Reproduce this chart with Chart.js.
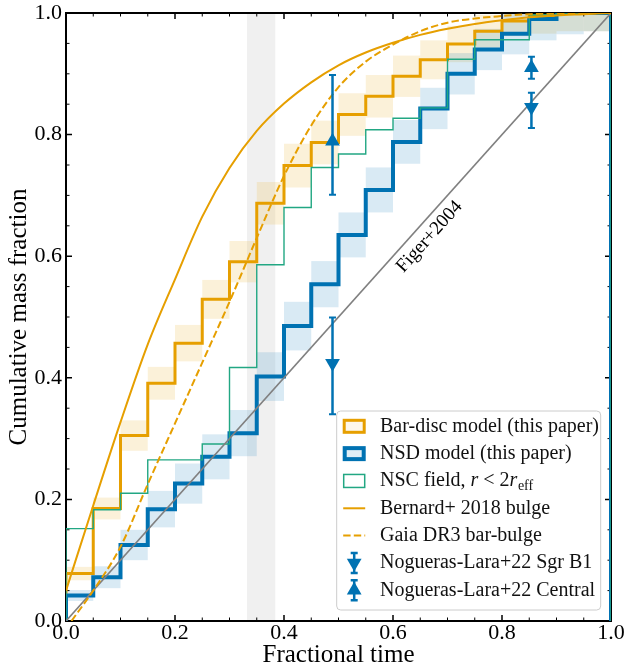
<!DOCTYPE html>
<html>
<head>
<meta charset="utf-8">
<script src="https://cdn.jsdelivr.net/npm/chart.js@4.4.1/dist/chart.umd.min.js"></script>
<style>
  html, body { margin: 0; padding: 0; background: #fff; }
  #wrap { width: 624px; height: 668px; }
</style>
</head>
<body>
<div id="wrap"><canvas id="chart" width="624" height="668"></canvas></div>
<script>
// histogram bins in fractional time
const binEdges = [0, 0.05, 0.1, 0.15, 0.2, 0.25, 0.3, 0.35, 0.4, 0.45, 0.5, 0.55, 0.6, 0.65, 0.7, 0.75, 0.8, 0.85, 0.9, 0.95, 1.0];

// cumulative fractions per bin
const barDisc    = [0.078, 0.185, 0.305, 0.391, 0.457, 0.529, 0.591, 0.687, 0.749, 0.787, 0.833, 0.863, 0.896, 0.923, 0.949, 0.970, 0.987, 0.996, 1.0, 1.0];
const barDiscErr = [0.011, 0.018, 0.025, 0.027, 0.030, 0.032, 0.034, 0.035, 0.036, 0.036, 0.035, 0.035, 0.034, 0.032, 0.030, 0.027, 0.025, 0.030, 0.030, 0.030];
const nsdModel   = [0.042, 0.072, 0.125, 0.184, 0.226, 0.270, 0.309, 0.402, 0.485, 0.554, 0.635, 0.709, 0.788, 0.843, 0.900, 0.940, 0.966, 0.990, 1.0, 1.0];
const nsdErr     = [0.009, 0.018, 0.025, 0.030, 0.033, 0.037, 0.038, 0.040, 0.040, 0.038, 0.037, 0.037, 0.036, 0.034, 0.034, 0.034, 0.034, 0.035, 0.035, 0.030];
const nscField   = [0.152, 0.183, 0.210, 0.265, 0.265, 0.291, 0.417, 0.586, 0.680, 0.746, 0.768, 0.808, 0.827, 0.844, 0.924, 0.956, 0.956, 0.997, 1.0, 1.0];

// smooth literature curves
const bernardX = [0, 0.05, 0.1, 0.15, 0.2, 0.25, 0.3, 0.35, 0.4, 0.45, 0.5, 0.55, 0.6, 0.65, 0.7, 0.75, 0.8, 0.85, 0.9, 0.95, 1.0];
const bernardY = [0.05, 0.19, 0.327, 0.455, 0.562, 0.665, 0.745, 0.806, 0.851, 0.886, 0.914, 0.935, 0.951, 0.964, 0.974, 0.982, 0.988, 0.993, 0.996, 0.998, 1.0];
const gaiaX = [0.01, 0.05, 0.1, 0.15, 0.2, 0.25, 0.3, 0.35, 0.4, 0.45, 0.5, 0.55, 0.6, 0.65, 0.7, 0.75, 0.8, 0.85, 0.9, 1.0];
const gaiaY = [0.0, 0.05, 0.122, 0.225, 0.325, 0.425, 0.525, 0.63, 0.732, 0.815, 0.878, 0.92, 0.948, 0.97, 0.984, 0.991, 0.995, 0.998, 0.999, 1.0];
const figerX = [0, 1];
const figerY = [0, 1];

// Nogueras-Lara+22 points with lower / upper error limits
const sgrB1X  = [0.489, 0.854];
const sgrB1Y  = [0.424, 0.845];
const sgrB1Lo = [0.340, 0.811];
const sgrB1Hi = [0.499, 0.869];
const centralX  = [0.489, 0.854];
const centralY  = [0.789, 0.910];
const centralLo = [0.701, 0.892];
const centralHi = [0.898, 0.928];

const bandRange = [0.332, 0.384];
const tickValues = [0, 0.2, 0.4, 0.6, 0.8, 1.0];

const ORANGE = '#E69F00';
const BLUE = '#0072B2';
const GREEN = '#22a783';
const FONT = '"Liberation Serif", "Times New Roman", serif';

Chart.defaults.font.family = FONT;
Chart.defaults.color = '#000';

function stairs(vals) {
    const pts = [{x: 0, y: 0}];
    vals.forEach((v, i) => pts.push({x: binEdges[i], y: v}));
    pts.push({x: 1, y: vals[vals.length - 1]});
    pts.push({x: 1, y: 0});
    return pts;
}
const zip = (xs, ys) => xs.map((x, i) => ({x: x, y: ys[i]}));

const backdrop = {
    id: 'backdrop',
    beforeDatasetsDraw(chart) {
        const {ctx, chartArea: a, scales: {x, y}} = chart;
        ctx.save();
        ctx.beginPath();
        ctx.rect(a.left, a.top, a.width, a.height);
        ctx.clip();
        const x0 = x.getPixelForValue(bandRange[0]);
        ctx.fillStyle = 'rgba(0,0,0,0.06)';
        ctx.fillRect(x0, a.top, x.getPixelForValue(bandRange[1]) - x0, a.height);
        function shade(vals, errs, color) {
            ctx.fillStyle = color;
            vals.forEach((v, i) => {
                const l = x.getPixelForValue(binEdges[i]);
                const r = x.getPixelForValue(binEdges[i + 1]);
                const t = y.getPixelForValue(v + errs[i]);
                const b = y.getPixelForValue(v - errs[i]);
                ctx.fillRect(l, t, r - l, b - t);
            });
        }
        shade(barDisc, barDiscErr, 'rgba(230,159,0,0.15)');
        shade(nsdModel, nsdErr, 'rgba(0,114,178,0.15)');
        ctx.restore();

        // frame and inward ticks on all sides
        ctx.save();
        ctx.strokeStyle = '#000';
        ctx.lineWidth = 2;
        ctx.strokeRect(a.left, a.top, a.width, a.height);
        for (let k = 0; k <= 20; k++) {
            const v = k / 20;
            const major = k % 4 === 0;
            const len = major ? 6 : 3.5;
            ctx.lineWidth = major ? 1.5 : 1;
            const px = x.getPixelForValue(v);
            const py = y.getPixelForValue(v);
            ctx.beginPath();
            ctx.moveTo(px, a.bottom); ctx.lineTo(px, a.bottom - len);
            ctx.moveTo(px, a.top); ctx.lineTo(px, a.top + len);
            ctx.moveTo(a.left, py); ctx.lineTo(a.left + len, py);
            ctx.moveTo(a.right, py); ctx.lineTo(a.right - len, py);
            ctx.stroke();
        }
        ctx.restore();
    },
    afterDatasetsDraw(chart) {
        const {ctx, scales: {x, y}} = chart;
        ctx.save();
        // error bars
        ctx.strokeStyle = BLUE;
        function bars(xs, lo, hi) {
            xs.forEach((xv, i) => {
                const px = x.getPixelForValue(xv);
                const t = y.getPixelForValue(hi[i]);
                const b = y.getPixelForValue(lo[i]);
                ctx.lineWidth = 2.5;
                ctx.beginPath(); ctx.moveTo(px, t); ctx.lineTo(px, b); ctx.stroke();
                ctx.lineWidth = 2;
                ctx.beginPath();
                ctx.moveTo(px - 3.5, t); ctx.lineTo(px + 3.5, t);
                ctx.moveTo(px - 3.5, b); ctx.lineTo(px + 3.5, b);
                ctx.stroke();
            });
        }
        bars(sgrB1X, sgrB1Lo, sgrB1Hi);
        bars(centralX, centralLo, centralHi);

        // label along the Figer+2004 line
        const ang = Math.atan2(y.getPixelForValue(1) - y.getPixelForValue(0), x.getPixelForValue(1) - x.getPixelForValue(0));
        ctx.translate(x.getPixelForValue(0.667), y.getPixelForValue(0.632));
        ctx.rotate(ang);
        ctx.fillStyle = '#000';
        ctx.font = '19px ' + FONT;
        ctx.textAlign = 'center';
        ctx.textBaseline = 'middle';
        ctx.fillText('Figer+2004', 0, 0);
        ctx.restore();
    }
};

function tri(ctx, cx, cy, r, down) {
    const s = down ? -1 : 1;
    ctx.beginPath();
    ctx.moveTo(cx, cy - s * r);
    ctx.lineTo(cx - r * 0.866, cy + s * r / 2);
    ctx.lineTo(cx + r * 0.866, cy + s * r / 2);
    ctx.closePath();
    ctx.fill();
}

const legendItems = [
    {text: 'Bar-disc model (this paper)', draw(ctx, cx, cy) {
        ctx.fillStyle = 'rgba(230,159,0,0.08)'; ctx.fillRect(cx - 11, cy - 6.5, 22, 13);
        ctx.strokeStyle = ORANGE; ctx.lineWidth = 3; ctx.strokeRect(cx - 10, cy - 6, 20, 12);
    }},
    {text: 'NSD model (this paper)', draw(ctx, cx, cy) {
        ctx.fillStyle = 'rgba(0,114,178,0.12)'; ctx.fillRect(cx - 11, cy - 6.5, 22, 13);
        ctx.strokeStyle = BLUE; ctx.lineWidth = 4; ctx.strokeRect(cx - 9.5, cy - 5.5, 19, 11);
    }},
    {text: 'NSC field, ', math: true, draw(ctx, cx, cy) {
        ctx.strokeStyle = GREEN; ctx.lineWidth = 1.5; ctx.strokeRect(cx - 10.5, cy - 6.5, 21, 13);
    }},
    {text: 'Bernard+ 2018 bulge', draw(ctx, cx, cy) {
        ctx.strokeStyle = ORANGE; ctx.lineWidth = 2;
        ctx.beginPath(); ctx.moveTo(cx - 11, cy); ctx.lineTo(cx + 11, cy); ctx.stroke();
    }},
    {text: 'Gaia DR3 bar-bulge', draw(ctx, cx, cy) {
        ctx.strokeStyle = ORANGE; ctx.lineWidth = 2; ctx.setLineDash([7.4, 3.2]);
        ctx.beginPath(); ctx.moveTo(cx - 11, cy); ctx.lineTo(cx + 11, cy); ctx.stroke();
        ctx.setLineDash([]);
    }},
    {text: 'Nogueras-Lara+22 Sgr B1', draw(ctx, cx, cy) {
        ctx.strokeStyle = BLUE; ctx.fillStyle = BLUE; ctx.lineWidth = 2.5;
        ctx.beginPath(); ctx.moveTo(cx, cy - 10); ctx.lineTo(cx, cy + 10);
        ctx.moveTo(cx - 3.5, cy - 10); ctx.lineTo(cx + 3.5, cy - 10);
        ctx.moveTo(cx - 3.5, cy + 10); ctx.lineTo(cx + 3.5, cy + 10); ctx.stroke();
        tri(ctx, cx, cy, 8.5, true);
    }},
    {text: 'Nogueras-Lara+22 Central', draw(ctx, cx, cy) {
        ctx.strokeStyle = BLUE; ctx.fillStyle = BLUE; ctx.lineWidth = 2.5;
        ctx.beginPath(); ctx.moveTo(cx, cy - 10); ctx.lineTo(cx, cy + 10);
        ctx.moveTo(cx - 3.5, cy - 10); ctx.lineTo(cx + 3.5, cy - 10);
        ctx.moveTo(cx - 3.5, cy + 10); ctx.lineTo(cx + 3.5, cy + 10); ctx.stroke();
        tri(ctx, cx, cy, 8.5, false);
    }}
];

const legendBox = {
    id: 'legendBox',
    afterDraw(chart) {
        const {ctx, chartArea: a} = chart;
        const w = 264, h = 199, right = a.right - 10.3, bottom = a.bottom - 11;
        const left = right - w, top = bottom - h;
        ctx.save();
        ctx.beginPath();
        ctx.roundRect(left, top, w, h, 4);
        ctx.fillStyle = 'rgba(255,255,255,0.8)';
        ctx.fill();
        ctx.strokeStyle = '#cccccc';
        ctx.lineWidth = 1;
        ctx.stroke();
        const size = 20;
        legendItems.forEach((it, i) => {
            const cy = top + 15.3 + i * 27.33;
            it.draw(ctx, left + 17.5, cy);
            ctx.fillStyle = '#111';
            ctx.textBaseline = 'middle';
            ctx.textAlign = 'left';
            let tx = left + 43.3;
            ctx.font = size + 'px ' + FONT;
            ctx.fillText(it.text, tx, cy);
            if (it.math) {
                tx += ctx.measureText(it.text).width;
                const parts = [['r', 'italic '], [' < 2', ''], ['r', 'italic ']];
                parts.forEach(p => {
                    ctx.font = p[1] + size + 'px ' + FONT;
                    ctx.fillText(p[0], tx, cy);
                    tx += ctx.measureText(p[0]).width;
                });
                ctx.font = '14px ' + FONT;
                ctx.fillText('eff', tx + 0.5, cy + 5);
            }
        });
        ctx.restore();
    }
};

const ctx = document.getElementById('chart').getContext('2d');
new Chart(ctx, {
    type: 'line',
    data: {
        datasets: [
            {label: 'Nogueras-Lara+22 Central', data: zip(centralX, centralY), showLine: false,
             pointStyle: 'triangle', pointRadius: 8.5, pointBackgroundColor: BLUE, pointBorderColor: BLUE, pointBorderWidth: 0, order: 0},
            {label: 'Nogueras-Lara+22 Sgr B1', data: zip(sgrB1X, sgrB1Y), showLine: false,
             pointStyle: 'triangle', rotation: 180, pointRadius: 8.5, pointBackgroundColor: BLUE, pointBorderColor: BLUE, pointBorderWidth: 0, order: 0},
            {label: 'Gaia DR3 bar-bulge', data: zip(gaiaX, gaiaY), borderColor: ORANGE, borderWidth: 2,
             borderDash: [7.4, 3.2], cubicInterpolationMode: 'monotone', pointRadius: 0, order: 1},
            {label: 'Bernard+ 2018 bulge', data: zip(bernardX, bernardY), borderColor: ORANGE, borderWidth: 2,
             cubicInterpolationMode: 'monotone', pointRadius: 0, order: 2},
            {label: 'Figer+2004', data: zip(figerX, figerY), borderColor: '#808080', borderWidth: 1.6, pointRadius: 0, order: 3},
            {label: 'NSC field', data: stairs(nscField), stepped: 'before', borderColor: GREEN, borderWidth: 1.4, pointRadius: 0, order: 4},
            {label: 'NSD model (this paper)', data: stairs(nsdModel), stepped: 'before', borderColor: BLUE, borderWidth: 4, pointRadius: 0, order: 5},
            {label: 'Bar-disc model (this paper)', data: stairs(barDisc), stepped: 'before', borderColor: ORANGE, borderWidth: 3, pointRadius: 0, order: 6}
        ]
    },
    options: {
        responsive: false,
        animation: false,
        layout: {padding: {left: 0, right: 13, top: 13, bottom: 0}},
        plugins: {legend: {display: false}, tooltip: {enabled: false}},
        scales: {
            x: {
                type: 'linear', min: 0, max: 1,
                grid: {display: false, drawTicks: false},
                border: {display: false},
                afterBuildTicks: s => { s.ticks = tickValues.map(v => ({value: v})); },
                afterFit: s => { s.height = 47; s.paddingLeft = 0; s.paddingRight = 0; },
                ticks: {font: {size: 22, lineHeight: 1}, padding: 1, maxRotation: 0, callback: v => v.toFixed(1)},
                title: {display: true, text: 'Fractional time', font: {size: 25, lineHeight: 1}, padding: {top: 0, bottom: 0}}
            },
            y: {
                type: 'linear', min: 0, max: 1,
                grid: {display: false, drawTicks: false},
                border: {display: false},
                afterBuildTicks: s => { s.ticks = tickValues.map(v => ({value: v})); },
                afterFit: s => { s.width = 66; s.paddingTop = 0; s.paddingBottom = 0; },
                ticks: {font: {size: 22}, padding: 4, callback: v => v.toFixed(1)},
                title: {display: true, text: 'Cumulative mass fraction', font: {size: 25, lineHeight: 1}, padding: {top: 7, bottom: 0}}
            }
        }
    },
    plugins: [backdrop, legendBox]
});
</script>
</body>
</html>
